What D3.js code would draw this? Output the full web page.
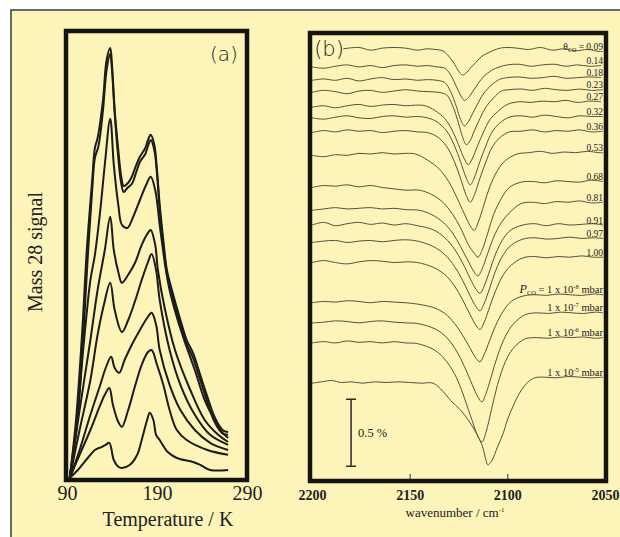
<!DOCTYPE html>
<html>
<head>
<meta charset="utf-8">
<script src="https://cdn.jsdelivr.net/npm/d3@7"></script>
<style>
  body { margin: 0; background: #fff; }
  svg { display: block; }
  text { font-family: "Liberation Serif", "Times New Roman", serif; fill: #222; }
</style>
</head>
<body>
<div id="chart"></div>
<script>
// ---------- panel (a): TPD, mass 28 signal vs temperature ----------
const tempTicks = [90, 190, 290];

// [temperature K, mass 28 signal (a.u.)]
const tpd1 = [[93,0],[100,14.5],[107,37],[112,57],[118,74.5],[121,82.5],[124,85],[130,94.5],[134,104.5],[138,107.5],[140,103.3],[143,92],[147,82],[150,75.8],[153,73],[158,73.8],[162,75.3],[167,78.3],[171,80.3],[177,82.5],[180,84.5],[183,85.8],[187,83.3],[190,77],[193,68.3],[197,59.5],[201,52],[208,45.8],[216,39.5],[223,34.5],[230,31.3],[238,25.8],[246,20.3],[253,15.8],[260,12.8],[264,11.8],[269,11.5]];
const tpd2 = [[93,0],[101,13],[108,35],[113,55],[118,72],[121,80],[125,83],[130,92],[134,102],[138,106],[140,102],[143,91],[147,80],[150,74],[153,71.5],[157,72.5],[162,73.5],[167,76.5],[171,79],[177,81],[180,83],[183,84.5],[187,82],[190,76],[193,67],[197,58.5],[201,51],[208,44.5],[216,38.5],[223,33.5],[230,30],[238,24.5],[246,19],[253,14.5],[260,11.8],[264,11],[269,10.8]];
const tpd3 = [[93,0],[101,14.5],[109,34.5],[116,49.5],[121,55.8],[127,67],[132,78.3],[138,89.8],[142,78.3],[147,68.3],[151,63.3],[157,62.5],[163,65],[171,69.5],[178,73.3],[183,75.3],[188,72],[193,63.3],[199,53.3],[204,47],[213,39.5],[222,33.3],[232,27],[243,19.5],[254,14.5],[262,11.5],[269,10]];
const tpd4 = [[93,0],[104,17],[116,34.5],[124,47],[132,57],[138,65.3],[142,57],[147,51.5],[151,48.8],[158,50.8],[166,54],[173,58.3],[180,61.3],[183,62],[188,58.3],[191,52],[199,42],[210,32],[227,22],[243,14.5],[258,10.8],[269,9]];
const tpd5 = [[93,0],[104,12],[116,24.5],[124,35.8],[131,43.3],[138,48.8],[143,42],[151,36.5],[158,39.5],[166,44.5],[173,49.5],[180,54],[184,56],[189,52],[193,44.5],[204,32],[216,23.3],[232,15.8],[249,10.8],[269,8.3]];
const tpd6 = [[93,0],[104,7],[116,15.8],[127,23.3],[133,27.5],[139,30.3],[143,27.5],[148,26.3],[154,29.5],[162,33.3],[171,37],[179,40],[184,41.3],[189,38.3],[193,32],[204,23.3],[216,17],[232,12],[249,8.8],[269,7]];
const tpd7 = [[93,0],[104,5.8],[116,12],[127,18.3],[132,20.8],[137,22.5],[141,18.3],[147,14],[151,12.8],[158,17],[166,23.3],[173,28.3],[180,31.5],[184,32],[190,28.3],[197,23.3],[204,17],[212,12],[223,9.5],[246,7],[269,5.8]];
const tpd8 = [[93,0],[102,2],[113,5],[121,7],[129,7.8],[133,8.3],[137,8.8],[142,4.5],[147,2.8],[151,2.5],[160,3.3],[168,5.8],[173,9.5],[179,14.5],[182,16.3],[186,14.5],[189,10.8],[193,9.5],[202,6.5],[212,5],[230,4],[238,3.3],[249,2],[269,2]];
const tpdCurves = [tpd1, tpd2, tpd3, tpd4, tpd5, tpd6, tpd7, tpd8];

// ---------- panel (b): IR spectra, offset stack ----------
const wnTicks = [2200, 2150, 2100, 2050];
const coverages = ["0.09","0.14","0.18","0.23","0.27","0.32","0.36","0.53","0.68","0.81","0.91","0.97","1.00"];
const pressureExp = ["-8","-7","-6","-5"];
// baseline of each spectrum in the stack (%)
const offsets = [3.22,3.09,2.99,2.90,2.79,2.71,2.60,2.43,2.19,2.02,1.91,1.78,1.63,1.33,1.18,1.03,0.73];

// [wavenumber cm-1, change in signal (%)]
const ir1 = [[2184,0.005],[2176,0.015],[2170,-0.005],[2164,0.01],[2158,0.015],[2152,0.01],[2146,-0.005],[2141,0.005],[2137,0],[2133,-0.01],[2130,-0.05],[2127,-0.11],[2125,-0.16],[2123,-0.19],[2121,-0.175],[2119,-0.14],[2116,-0.095],[2113,-0.05],[2109,-0.02],[2105,0.005],[2101,0.015],[2095,0.01],[2089,0],[2083,0.015],[2077,-0.005],[2071,0.005],[2065,-0.01],[2059,0],[2053,-0.015],[2051,-0.015]];
const ir2 = [[2200,0],[2194,-0.01],[2188,0.005],[2182,0.015],[2176,0],[2170,0.01],[2164,-0.005],[2158,0.01],[2152,0.015],[2146,0.005],[2141,0.01],[2136,0],[2132,-0.01],[2129,-0.06],[2126,-0.15],[2124,-0.21],[2122,-0.25],[2120,-0.23],[2118,-0.19],[2115,-0.125],[2112,-0.07],[2108,-0.025],[2104,0],[2100,0.015],[2094,0.02],[2088,0.005],[2082,0.015],[2076,0.02],[2070,0.005],[2064,0.015],[2058,0.005],[2052,0.01]];
const ir3 = [[2200,0],[2194,0.01],[2188,0],[2182,0.015],[2176,-0.005],[2170,0.01],[2164,0.02],[2158,0.005],[2152,0.01],[2146,0],[2141,0.005],[2136,0],[2132,-0.017],[2129,-0.085],[2126,-0.2],[2124,-0.29],[2122,-0.34],[2120,-0.31],[2118,-0.255],[2115,-0.17],[2112,-0.095],[2108,-0.034],[2104,0.007],[2100,0.02],[2094,0.025],[2088,0.015],[2082,0.02],[2076,0.03],[2070,0.015],[2064,0.02],[2058,0.025],[2052,0.02]];
const ir4 = [[2200,0],[2194,0.015],[2188,0.005],[2182,-0.01],[2176,0.01],[2170,0.015],[2164,0],[2158,0.01],[2152,0.02],[2146,0.01],[2140,0.005],[2135,0],[2131,-0.02],[2128,-0.1],[2125,-0.23],[2123,-0.33],[2121,-0.39],[2119,-0.36],[2117,-0.29],[2114,-0.195],[2111,-0.11],[2107,-0.04],[2103,0.01],[2099,0.02],[2093,0.025],[2087,0.015],[2081,0.03],[2075,0.02],[2069,0.015],[2063,0.025],[2057,0.015],[2051,0.02]];
const ir5 = [[2200,0],[2194,0.01],[2188,-0.005],[2182,0.01],[2176,0.02],[2170,0.005],[2164,0.015],[2158,0.02],[2152,0.01],[2147,0.015],[2142,0.01],[2137,-0.026],[2132,-0.086],[2128,-0.18],[2125,-0.28],[2122,-0.387],[2120,-0.43],[2118,-0.387],[2115,-0.28],[2112,-0.18],[2109,-0.095],[2105,-0.034],[2100,0.02],[2094,0.04],[2088,0.035],[2082,0.045],[2076,0.04],[2070,0.05],[2064,0.035],[2058,0.045],[2052,0.04]];
const ir6 = [[2200,0],[2194,-0.01],[2188,0.005],[2182,0.015],[2176,0],[2170,-0.005],[2164,0.01],[2158,0.015],[2152,0.005],[2146,0.01],[2141,0],[2136,-0.03],[2131,-0.1],[2127,-0.21],[2124,-0.325],[2121,-0.45],[2119,-0.5],[2117,-0.45],[2114,-0.325],[2111,-0.21],[2108,-0.11],[2104,-0.04],[2099,0.005],[2093,0.015],[2087,0.005],[2081,0.02],[2075,0.01],[2069,0],[2063,0.015],[2057,0.01],[2051,0.01]];
const ir7 = [[2200,0],[2194,0.015],[2188,0.005],[2182,0.02],[2176,0.01],[2170,0.015],[2164,0],[2158,0.01],[2152,0.015],[2146,0.005],[2141,0],[2136,-0.03],[2131,-0.105],[2127,-0.22],[2124,-0.34],[2121,-0.47],[2119,-0.52],[2117,-0.47],[2114,-0.34],[2111,-0.22],[2108,-0.115],[2104,-0.04],[2099,0.005],[2093,0.01],[2087,0.02],[2081,0.005],[2075,0.015],[2069,0.01],[2063,0.02],[2057,0.005],[2051,0.01]];
const ir8 = [[2200,0],[2194,-0.01],[2188,0.005],[2182,0],[2176,0.015],[2170,0.01],[2164,0.02],[2158,0.01],[2152,0.015],[2147,0.01],[2141,-0.034],[2135,-0.1],[2130,-0.196],[2126,-0.31],[2122,-0.437],[2119,-0.526],[2117,-0.56],[2115,-0.504],[2112,-0.37],[2109,-0.235],[2105,-0.112],[2101,-0.039],[2095,0.01],[2089,0.02],[2083,0.03],[2077,0.015],[2071,0.025],[2065,0.02],[2059,0.03],[2053,0.02],[2051,0.02]];
const ir9 = [[2200,0],[2194,0.015],[2188,0.01],[2182,0.02],[2176,0.005],[2170,0.015],[2164,0],[2158,-0.01],[2152,-0.02],[2145,-0.02],[2139,-0.05],[2133,-0.11],[2128,-0.2],[2124,-0.3],[2120,-0.425],[2117,-0.49],[2115,-0.52],[2113,-0.47],[2110,-0.34],[2107,-0.2],[2103,-0.08],[2099,0],[2093,0.04],[2087,0.045],[2081,0.035],[2075,0.05],[2069,0.045],[2063,0.04],[2057,0.055],[2051,0.045]];
const ir10 = [[2200,0],[2194,0.01],[2188,0.02],[2182,0.01],[2176,0.015],[2170,0.02],[2164,0.01],[2158,0.015],[2152,0.005],[2145,0],[2139,-0.03],[2133,-0.088],[2128,-0.17],[2124,-0.27],[2120,-0.38],[2117,-0.46],[2115,-0.49],[2113,-0.44],[2110,-0.32],[2107,-0.2],[2103,-0.09],[2099,-0.02],[2093,0.05],[2087,0.06],[2081,0.05],[2075,0.065],[2069,0.06],[2063,0.07],[2057,0.055],[2051,0.06]];
const ir11 = [[2200,0],[2194,0.02],[2188,-0.005],[2182,0.01],[2176,0.02],[2170,0.005],[2164,0.015],[2158,0],[2152,0.01],[2146,-0.005],[2138,-0.035],[2132,-0.095],[2127,-0.18],[2123,-0.28],[2119,-0.4],[2116,-0.48],[2114,-0.51],[2112,-0.46],[2109,-0.34],[2106,-0.215],[2102,-0.1],[2098,-0.035],[2092,0],[2086,0.01],[2080,-0.005],[2074,0.01],[2068,0],[2062,0.005],[2056,0.01],[2051,0]];
const ir12 = [[2200,0],[2194,0.01],[2188,0.015],[2182,0],[2176,0.01],[2170,0.015],[2164,0.005],[2158,0.015],[2152,0.02],[2146,0.01],[2138,-0.03],[2132,-0.09],[2127,-0.18],[2123,-0.28],[2119,-0.4],[2116,-0.48],[2114,-0.51],[2112,-0.46],[2109,-0.34],[2106,-0.21],[2102,-0.09],[2098,-0.02],[2092,0.025],[2086,0.035],[2080,0.025],[2074,0.03],[2068,0.04],[2062,0.03],[2056,0.035],[2051,0.03]];
const ir13 = [[2200,0],[2194,0.015],[2188,0],[2182,-0.01],[2176,0.005],[2170,0.015],[2164,0.01],[2158,0],[2152,0.005],[2146,0],[2138,-0.035],[2132,-0.09],[2127,-0.175],[2123,-0.275],[2119,-0.39],[2116,-0.47],[2114,-0.5],[2112,-0.45],[2109,-0.33],[2106,-0.21],[2102,-0.09],[2098,-0.02],[2092,0.035],[2086,0.045],[2080,0.035],[2074,0.045],[2068,0.04],[2062,0.05],[2056,0.04],[2051,0.04]];
const ir14 = [[2200,0],[2194,0.01],[2188,0.005],[2182,0.015],[2176,0.01],[2170,0],[2164,0.01],[2158,0.005],[2152,0],[2146,-0.01],[2138,-0.035],[2132,-0.08],[2127,-0.155],[2123,-0.24],[2119,-0.34],[2116,-0.415],[2114,-0.44],[2112,-0.39],[2109,-0.28],[2106,-0.17],[2102,-0.06],[2098,0.01],[2092,0.05],[2086,0.06],[2080,0.055],[2074,0.065],[2068,0.06],[2062,0.055],[2056,0.065],[2051,0.06]];
const ir15 = [[2200,0],[2194,0.005],[2188,0.015],[2182,0.01],[2176,0],[2170,0.01],[2164,0.015],[2158,0.005],[2152,0],[2146,-0.005],[2137,-0.045],[2131,-0.11],[2126,-0.21],[2122,-0.325],[2118,-0.46],[2115,-0.555],[2113,-0.59],[2111,-0.53],[2108,-0.39],[2105,-0.245],[2101,-0.1],[2097,-0.01],[2091,0.06],[2085,0.075],[2079,0.07],[2073,0.08],[2067,0.075],[2061,0.07],[2055,0.08],[2051,0.075]];
const ir16 = [[2200,0],[2194,0.01],[2188,0],[2182,0.015],[2176,0.005],[2170,0.01],[2164,0],[2158,0.01],[2152,0],[2146,-0.005],[2137,-0.055],[2131,-0.14],[2126,-0.26],[2122,-0.41],[2118,-0.58],[2115,-0.7],[2113,-0.74],[2111,-0.67],[2108,-0.49],[2105,-0.31],[2101,-0.14],[2097,-0.04],[2091,0.03],[2085,0.04],[2079,0.035],[2073,0.045],[2067,0.04],[2061,0.045],[2055,0.035],[2051,0.04]];
const ir17 = [[2200,0],[2195,0.01],[2190,0.02],[2185,0.005],[2180,0.01],[2174,0],[2168,0.01],[2162,0.005],[2156,0.01],[2150,0.005],[2144,0],[2138,0],[2133,-0.06],[2129,-0.13],[2124,-0.2],[2120,-0.275],[2116,-0.37],[2113,-0.46],[2111,-0.57],[2110,-0.61],[2108,-0.58],[2105,-0.475],[2102,-0.37],[2100,-0.275],[2097,-0.17],[2094,-0.08],[2090,0],[2086,0.04],[2081,0.045],[2075,0.04],[2069,0.05],[2063,0.045],[2057,0.04],[2051,0.045]];
const spectra = [ir1, ir2, ir3, ir4, ir5, ir6, ir7, ir8, ir9, ir10, ir11, ir12, ir13, ir14, ir15, ir16, ir17];

const scaleBar = [0.11, 0.61]; // 0.5 %

const width = 620;
const height = 537;

const svg = d3.select("#chart")
  .append("svg")
  .attr("width", width)
  .attr("height", height);

// cream page with thin frame
svg.append("rect")
  .attr("x", 11).attr("y", 10)
  .attr("width", 700).attr("height", 600)
  .attr("fill", "#fcf4b9")
  .attr("stroke", "#3a3a3a")
  .attr("stroke-width", 1.5);

// ===== panel (a) =====
const xA = d3.scaleLinear().domain([90, 290]).range([67, 247]);
const yA = d3.scaleLinear().domain([0, 111]).range([478, 34]);

const lineA = d3.line()
  .x(d => xA(d[0]))
  .y(d => yA(d[1]))
  .curve(d3.curveCatmullRom);

svg.append("g")
  .selectAll("path")
  .data(tpdCurves)
  .join("path")
  .attr("d", lineA)
  .attr("fill", "none")
  .attr("stroke", "#1c1c1a")
  .attr("stroke-width", 2);

svg.append("rect")
  .attr("x", 66).attr("y", 31)
  .attr("width", 181).attr("height", 449)
  .attr("fill", "none")
  .attr("stroke", "#141412")
  .attr("stroke-width", 4.5);

const axisA = svg.append("g")
  .attr("transform", "translate(0,480)")
  .call(d3.axisBottom(xA).tickValues(tempTicks).tickSize(0).tickPadding(6).tickFormat(d3.format("d")));
axisA.select(".domain").remove();
axisA.selectAll("text")
  .style("font-family", "Liberation Serif, serif")
  .style("font-size", "20px")
  .attr("fill", "#222");

svg.append("text")
  .attr("x", 168).attr("y", 526)
  .attr("text-anchor", "middle")
  .style("font-size", "20px")
  .text("Temperature / K");

svg.append("text")
  .attr("transform", "translate(42,252) rotate(-90)")
  .attr("text-anchor", "middle")
  .style("font-size", "20px")
  .text("Mass 28 signal");

svg.append("text")
  .attr("x", 224).attr("y", 61)
  .attr("text-anchor", "middle")
  .style("font-family", "DejaVu Sans, sans-serif")
  .style("font-size", "20px")
  .style("font-weight", "200")
  .attr("fill", "#333")
  .text("(a)");

// ===== panel (b) =====
const xB = d3.scaleLinear().domain([2200, 2050]).range([312, 605]);
const yB = d3.scaleLinear().domain([0, 3.343]).range([481, 33]);

const lineB = d3.line()
  .x(d => xB(d[0]))
  .y(d => yB(d[1]))
  .curve(d3.curveCatmullRom);

svg.append("g")
  .selectAll("path")
  .data(spectra)
  .join("path")
  .attr("d", (s, i) => lineB(s.map(p => [p[0], offsets[i] + p[1]])))
  .attr("fill", "none")
  .attr("stroke", "#55523c")
  .attr("stroke-width", 1);

// labels sitting on the right end of each spectrum
const labels = svg.append("g")
  .style("font-size", "9.5px");
spectra.forEach((s, i) => {
  const last = s[s.length - 1];
  const t = labels.append("text")
    .attr("x", 603)
    .attr("y", yB(offsets[i] + last[1]) - 1.5)
    .attr("text-anchor", "end")
    .attr("fill", "#2a2a22");
  if (i < coverages.length) {
    if (i === 0) {
      t.append("tspan").text("\u03b8");
      t.append("tspan").attr("dy", 2).style("font-size", "6px").text("CO");
      t.append("tspan").attr("dy", -2).text(" = " + coverages[i]);
    } else {
      t.text(coverages[i]);
    }
  } else {
    const k = i - coverages.length;
    t.style("font-size", "10.5px");
    if (k === 0) {
      t.append("tspan").style("font-style", "italic").style("font-size", "12px").text("P");
      t.append("tspan").attr("dy", 2).style("font-size", "6.5px").text("CO");
      t.append("tspan").attr("dy", -2).text(" = 1 x 10");
    } else {
      t.append("tspan").text("1 x 10");
    }
    t.append("tspan").attr("dy", -4).style("font-size", "6.5px").text(pressureExp[k]);
    t.append("tspan").attr("dy", 4).text(" mbar");
  }
});

// scale bar
const sbX = xB(2180);
const sb = svg.append("g").attr("stroke", "#2a2a22").attr("stroke-width", 1.5);
sb.append("line").attr("x1", sbX).attr("x2", sbX).attr("y1", yB(scaleBar[0])).attr("y2", yB(scaleBar[1]));
sb.append("line").attr("x1", sbX - 5).attr("x2", sbX + 5).attr("y1", yB(scaleBar[0])).attr("y2", yB(scaleBar[0]));
sb.append("line").attr("x1", sbX - 5).attr("x2", sbX + 5).attr("y1", yB(scaleBar[1])).attr("y2", yB(scaleBar[1]));
svg.append("text")
  .attr("x", sbX + 7)
  .attr("y", yB(d3.mean(scaleBar)) + 4)
  .style("font-size", "12.5px")
  .text("0.5 %");

svg.append("rect")
  .attr("x", 310).attr("y", 33)
  .attr("width", 296).attr("height", 448)
  .attr("fill", "none")
  .attr("stroke", "#141412")
  .attr("stroke-width", 4.5);

// small inner ticks
const innerTicks = svg.append("g")
  .attr("transform", "translate(0,479)")
  .call(d3.axisTop(xB).tickValues([2150, 2100]).tickSize(5).tickFormat(""));
innerTicks.select(".domain").remove();
innerTicks.selectAll("line").attr("stroke", "#333");

const axisB = svg.append("g")
  .attr("transform", "translate(0,481)")
  .call(d3.axisBottom(xB).tickValues(wnTicks).tickSize(0).tickPadding(9).tickFormat(d3.format("d")));
axisB.select(".domain").remove();
axisB.selectAll("text")
  .style("font-family", "Liberation Serif, serif")
  .style("font-size", "14px")
  .style("font-weight", "bold")
  .attr("fill", "#2a2a22");

const xt = svg.append("text")
  .attr("x", 455).attr("y", 517)
  .attr("text-anchor", "middle")
  .style("font-size", "13px");
xt.append("tspan").text("wavenumber / cm");
xt.append("tspan").attr("dy", -5).style("font-size", "7px").text("-1");

svg.append("text")
  .attr("x", 329).attr("y", 56)
  .attr("text-anchor", "middle")
  .style("font-family", "DejaVu Sans, sans-serif")
  .style("font-size", "21px")
  .style("font-weight", "200")
  .attr("fill", "#333")
  .text("(b)");
</script>
</body>
</html>
